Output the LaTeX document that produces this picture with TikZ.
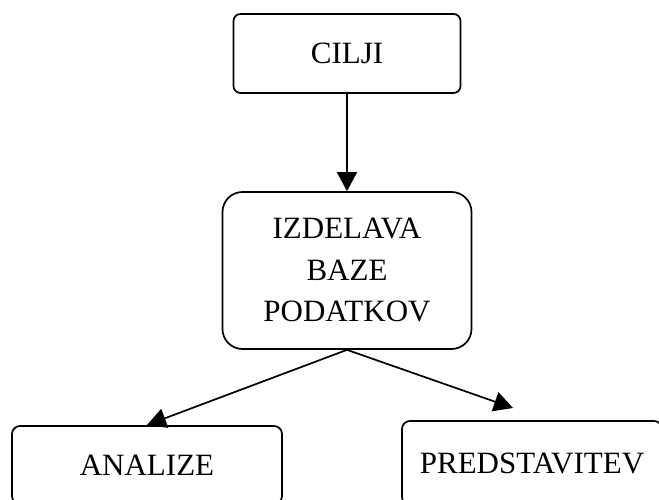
\documentclass[tikz,border=0pt]{standalone}
\usepackage{fontspec}
\setmainfont{Liberation Serif}
\usetikzlibrary{arrows.meta}
\begin{document}
\begin{tikzpicture}[x=1pt,y=-1pt,
  box/.style={draw,line width=1.7pt,inner sep=0pt,align=center,
    font=\fontsize{31}{41.5}\selectfont},
  conn/.style={line width=1.7pt,-{Triangle[length=19pt,width=20pt]}}]
\useasboundingbox (0,0) rectangle (659,500);
\node[box,rounded corners=7pt,minimum width=227pt,minimum height=79pt] (cilji) at (347,53.5) {CILJI};
\node[box,rounded corners=20pt,minimum width=249pt,minimum height=157pt] (baza) at (347,270.5) {IZDELAVA\\BAZE\\PODATKOV};
\node[box,rounded corners=8pt,minimum width=270pt,minimum height=78pt] (analize) at (147,465) {ANALIZE};
\node[box,rounded corners=8pt,minimum width=260pt,minimum height=84pt] (pred) at (532,463) {PREDSTAVITEV};
\coordinate (tipL) at (147,425);
\coordinate (tipR) at (513,408);
\draw[conn] (cilji.south) -- (baza.north);
\draw[conn] (baza.south) -- (tipL);
\draw[conn] (baza.south) -- (tipR);
\end{tikzpicture}
\end{document}
